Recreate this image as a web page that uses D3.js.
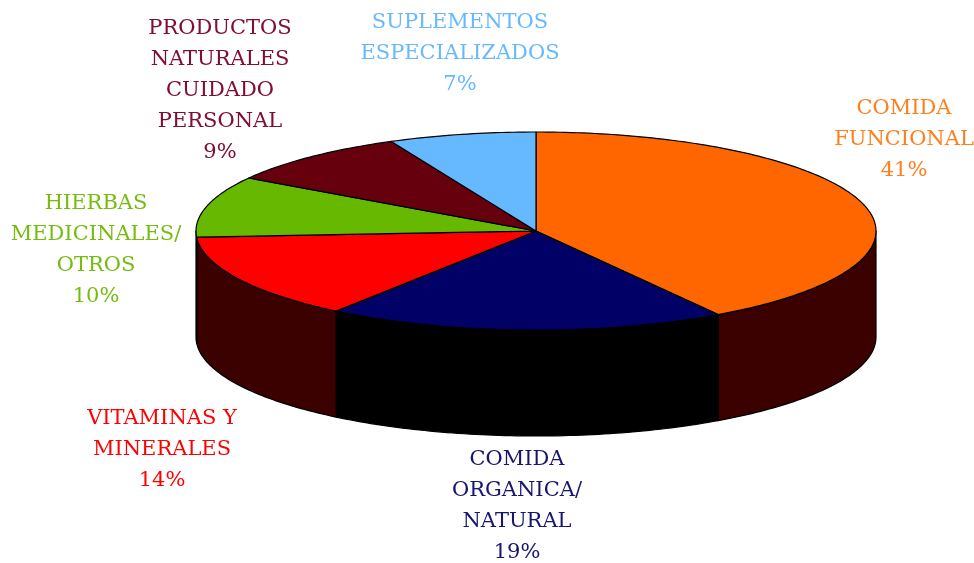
<!DOCTYPE html>
<html><head><meta charset="utf-8">
<script src="https://cdn.jsdelivr.net/npm/d3@7/dist/d3.min.js"></script>
<style>html,body{margin:0;padding:0;background:#fff}svg{display:block}</style>
</head><body><svg id="c" width="974" height="563"></svg>
<script>
const categories = ["COMIDA FUNCIONAL","COMIDA ORGANICA/ NATURAL","VITAMINAS Y MINERALES","HIERBAS MEDICINALES/ OTROS","PRODUCTOS NATURALES CUIDADO PERSONAL","SUPLEMENTOS ESPECIALIZADOS"];
const values = [41,19,14,10,9,7];
const topColors = ["#ff6600","#000066","#ff0000","#66b800","#660011","#66b8ff"];
const sideColors = ["#3a0000","#000000","#3a0000","#3a0000","#3a0000","#3a0000"];
const textColors = ["#ff7f1f","#14146e","#ff0000","#74bd10","#800a33","#66b8ff"];
const labelLines = [
  ["COMIDA","FUNCIONAL","41%"],
  ["COMIDA","ORGANICA/","NATURAL","19%"],
  ["VITAMINAS Y","MINERALES","14%"],
  ["HIERBAS","MEDICINALES/","OTROS","10%"],
  ["PRODUCTOS","NATURALES","CUIDADO","PERSONAL","9%"],
  ["SUPLEMENTOS","ESPECIALIZADOS","7%"]
];
const labelCentres = [904,517,162,96,220,460];
const labelFirstLine = [107,458,417,202,27,21];
const lineStep = 31.1;

const x = d3.scaleLinear().domain([-1,1]).range([196,876]);
const y = d3.scaleLinear().domain([-1,1]).range([132,330]);
const depth = 106;
const svg = d3.select("#c");
const defs = svg.append("defs");
defs.append("filter").attr("id","soft").attr("x","-5%").attr("y","-5%").attr("width","110%").attr("height","110%")
  .append("feGaussianBlur").attr("stdDeviation",0.4);
const root = svg.append("g").attr("filter","url(#soft)");
const line = d3.line();
const pie = d3.pie().sort(null).value(d=>d);
const arcs = pie(values);
const step = Math.PI/180;
const rim = (a0,a1,dy=0)=>{
  const n = Math.max(1,Math.ceil((a1-a0)/step));
  return d3.range(n+1).map(i=>{
    const a = a0+(a1-a0)*i/n;
    return [x(Math.sin(a)), y(-Math.cos(a))+dy];
  });
};
// side walls: only the front half of the rim, from PI/2 to 3PI/2
const front = arcs.map((d,i)=>({a0:Math.max(d.startAngle,Math.PI/2),a1:Math.min(d.endAngle,3*Math.PI/2),i}))
  .filter(d=>d.a1>d.a0);
root.append("g").selectAll("path").data(front).join("path")
  .attr("d",d=>line(rim(d.a0,d.a1).concat(rim(d.a0,d.a1,depth).reverse()))+"Z")
  .attr("fill",d=>sideColors[d.i]).attr("stroke","#000").attr("stroke-width",1.2).attr("stroke-linejoin","round");
// top face
root.append("g").selectAll("path").data(arcs).join("path")
  .attr("d",d=>line([[x(0),y(0)]].concat(rim(d.startAngle,d.endAngle)))+"Z")
  .attr("fill",(d,i)=>topColors[i]).attr("stroke","#000").attr("stroke-width",1.2).attr("stroke-linejoin","round");
// labels
const lab = root.append("g").attr("font-family","'DejaVu Serif',serif").attr("font-size",21).attr("text-anchor","middle");
labelLines.forEach((lines,i)=>{
  lab.append("g").attr("fill",textColors[i]).selectAll("text").data(lines).join("text")
    .attr("x",labelCentres[i]).attr("y",(d,j)=>labelFirstLine[i]+j*lineStep)
    .attr("dominant-baseline","central").text(d=>d);
});
</script></body></html>
